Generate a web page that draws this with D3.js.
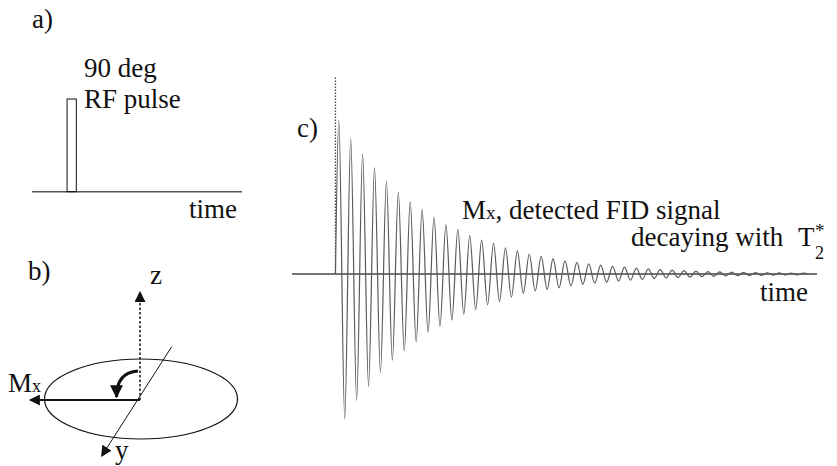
<!DOCTYPE html>
<html>
<head>
<meta charset="utf-8">
<script src="https://cdn.jsdelivr.net/npm/d3@7"></script>
<style>
  body { margin: 0; background: #fff; }
</style>
</head>
<body>
<div id="chart"></div>
<script>
// a) RF pulse (time in arbitrary units, height normalised)
const rfPulseStart = 1.67;
const rfPulseEnd = 2.11;
const rfPulseHeight = 1;

// c) FID signal: alternating extrema (first peak = 1)
const fidPulseTime = 0;      // ms, dotted marker
const fidFirstExtremum = 0.28;
const fidHalfPeriod = 0.5;
const fidExtrema = [
  1.00, -0.94, 0.88, -0.82, 0.78, -0.73, 0.69, -0.64, 0.60, -0.56,
  0.53, -0.50, 0.47, -0.44, 0.42, -0.38, 0.37, -0.34, 0.32, -0.30,
  0.29, -0.26, 0.25, -0.23, 0.22, -0.20, 0.20, -0.18, 0.17, -0.15,
  0.15, -0.125, 0.13, -0.11, 0.115, -0.10, 0.10, -0.09, 0.085, -0.078,
  0.075, -0.068, 0.066, -0.060, 0.058, -0.053, 0.050, -0.046, 0.044, -0.040,
  0.038, -0.035, 0.033, -0.030, 0.029, -0.026, 0.025, -0.023, 0.022, -0.020,
  0.019, -0.017, 0.016, -0.015, 0.014, -0.013, 0.012, -0.011, 0.011, -0.010,
  0.009, -0.009, 0.008, -0.008, 0.007, -0.007, 0.006, -0.006, 0.006
];
const fidLabels = ["M", "x", ", detected FID signal", "decaying with", "T", "2", "*"];

const FONT = "'Liberation Serif', 'Times New Roman', Tinos, 'DejaVu Serif', serif";
const FS = 27;
const width = 837, height = 466;
const svg = d3.select("#chart").append("svg")
  .attr("width", width)
  .attr("height", height)
  .attr("font-family", FONT);

function label(x, y, txt, size = FS) {
  return svg.append("text")
    .attr("x", x).attr("y", y)
    .attr("font-family", FONT)
    .attr("font-size", size)
    .attr("fill", "#111")
    .text(txt);
}

const defs = svg.append("defs");
function arrowMarker(id, size) {
  defs.append("marker")
    .attr("id", id)
    .attr("viewBox", "0 0 10 10")
    .attr("refX", 9).attr("refY", 5)
    .attr("markerWidth", size).attr("markerHeight", size)
    .attr("markerUnits", "userSpaceOnUse")
    .attr("orient", "auto")
    .append("path")
    .attr("d", "M0,0 L10,5 L0,10 z")
    .attr("fill", "#111");
}
arrowMarker("arr", 11);
arrowMarker("arrBig", 13);

// ---------- a) ----------
const xA = d3.scaleLinear().domain([0, 10]).range([32, 242]);
const yA = d3.scaleLinear().domain([0, 1]).range([191.7, 99]);

label(32, 28, "a)");

svg.append("line")
  .attr("x1", xA(0)).attr("x2", xA(10))
  .attr("y1", yA(0)).attr("y2", yA(0))
  .attr("stroke", "#555").attr("stroke-width", 1.5);

svg.append("rect")
  .attr("x", xA(rfPulseStart))
  .attr("y", yA(rfPulseHeight))
  .attr("width", xA(rfPulseEnd) - xA(rfPulseStart))
  .attr("height", yA(0) - yA(rfPulseHeight))
  .attr("fill", "none").attr("stroke", "#111").attr("stroke-width", 1);

label(84, 77, "90 deg");
label(84, 108, "RF pulse");
label(189, 218, "time");

// ---------- b) ----------
const cx = 140, cy = 400;
label(28, 280, "b)");

svg.append("ellipse")
  .attr("cx", 141).attr("cy", 399).attr("rx", 96.5).attr("ry", 40)
  .attr("fill", "none").attr("stroke", "#111").attr("stroke-width", 1.2);

// z axis (dotted)
svg.append("line")
  .attr("x1", cx).attr("y1", cy).attr("x2", cx).attr("y2", 292)
  .attr("stroke", "#222").attr("stroke-width", 1.6)
  .attr("stroke-dasharray", "2.5,2")
  .attr("marker-end", "url(#arr)");
label(150, 284, "z");

// y axis
svg.append("line")
  .attr("x1", 171.7).attr("y1", 346.7).attr("x2", 101.7).attr("y2", 456)
  .attr("stroke", "#111").attr("stroke-width", 1)
  .attr("marker-end", "url(#arr)");
label(115, 459, "y");

// Mx vector
svg.append("line")
  .attr("x1", cx).attr("y1", cy).attr("x2", 30).attr("y2", cy)
  .attr("stroke", "#111").attr("stroke-width", 2)
  .attr("marker-end", "url(#arr)");
const mxB = label(8, 392, "");
mxB.append("tspan").text(fidLabels[0]);
mxB.append("tspan").attr("font-size", 18).text(fidLabels[1]);

// rotation arrow
svg.append("path")
  .attr("d", "M138,371 C123,372 116.5,382 116.5,397")
  .attr("fill", "none").attr("stroke", "#111").attr("stroke-width", 3.2)
  .attr("marker-end", "url(#arrBig)");

// ---------- c) ----------
const xC = d3.scaleLinear().domain([-3.65, 40.45]).range([292, 817]);
const yC = d3.scaleLinear().domain([-1, 1]).range([274 + 154, 274 - 154]);

label(297, 137, "c)");

const fidPoints = [[fidPulseTime, 0]]
  .concat(fidExtrema.map((v, i) => [fidFirstExtremum + i * fidHalfPeriod, v]));
fidPoints.push([fidFirstExtremum + fidExtrema.length * fidHalfPeriod, 0]);

svg.append("line")
  .attr("x1", xC.range()[0]).attr("x2", xC.range()[1])
  .attr("y1", yC(0)).attr("y2", yC(0))
  .attr("stroke", "#444").attr("stroke-width", 1.5);

svg.append("line")
  .attr("x1", xC(fidPulseTime)).attr("x2", xC(fidPulseTime))
  .attr("y1", yC(0)).attr("y2", 76)
  .attr("stroke", "#444").attr("stroke-width", 1.3)
  .attr("stroke-dasharray", "1.5,1.5");

const fidLine = d3.line()
  .x(d => xC(d[0]))
  .y(d => yC(d[1]))
  .curve(d3.curveMonotoneX);

svg.append("path")
  .datum(fidPoints)
  .attr("d", fidLine)
  .attr("fill", "none")
  .attr("stroke", "#5a5a5a")
  .attr("stroke-width", 1.2);

const mxC = label(462, 219, "");
mxC.append("tspan").text(fidLabels[0]);
mxC.append("tspan").attr("font-size", 19).text(fidLabels[1]);
mxC.append("tspan").text(fidLabels[2]);

label(631, 246, fidLabels[3]);
label(798, 246, fidLabels[4]);
label(815, 259, fidLabels[5], 18);
label(815, 237, fidLabels[6], 19);

label(760, 301, "time");
</script>
</body>
</html>
